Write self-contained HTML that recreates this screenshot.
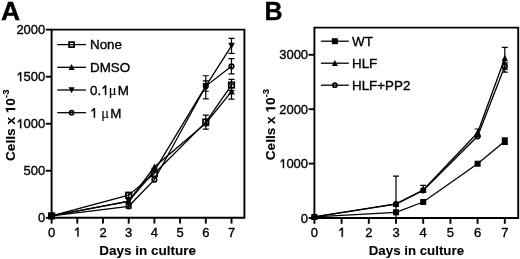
<!DOCTYPE html>
<html><head><meta charset="utf-8"><style>
html,body{margin:0;padding:0;background:#fff;overflow:hidden;width:520px;height:259px;}
svg{display:block;filter:grayscale(1);}
text{font-family:"Liberation Sans", sans-serif;fill:#000;stroke:#000;stroke-width:0.35px;}
text.b{stroke-width:0.1px;}
.h{fill:none;stroke:none;}
.one{fill:#000;stroke:#000;stroke-width:57px;}
.oneb{fill:#000;stroke:#000;stroke-width:15px;}
</style></head><body>
<svg width="520" height="259" viewBox="0 0 520 259">
<rect width="520" height="259" fill="#fff"/>
<path d="M51.6 29.65H244.4V217.8H51.6Z" fill="none" stroke="#000" stroke-width="1.9"/>
<path d="M45.8 217.8H51.6" stroke="#000" stroke-width="1.9"/>
<text x="45.3" y="222.3" text-anchor="end" font-size="13">0</text>
<path d="M45.8 170.76H51.6" stroke="#000" stroke-width="1.9"/>
<text x="45.3" y="175.26" text-anchor="end" font-size="13">500</text>
<path d="M45.8 123.73H51.6" stroke="#000" stroke-width="1.9"/>
<text x="45.3" y="128.23" text-anchor="end" font-size="13"><tspan class="h">1</tspan>000</text><path class="one" transform="translate(16.38 128.23) scale(0.00635 -0.00635)" d="M583 0L583 1147L223 905L223 1079L546 1409L763 1409L763 0Z"/>
<path d="M45.8 76.69H51.6" stroke="#000" stroke-width="1.9"/>
<text x="45.3" y="81.19" text-anchor="end" font-size="13"><tspan class="h">1</tspan>500</text><path class="one" transform="translate(16.38 81.19) scale(0.00635 -0.00635)" d="M583 0L583 1147L223 905L223 1079L546 1409L763 1409L763 0Z"/>
<path d="M45.8 29.65H51.6" stroke="#000" stroke-width="1.9"/>
<text x="45.3" y="34.15" text-anchor="end" font-size="13">2000</text>
<path d="M51.6 217.8V223.6" stroke="#000" stroke-width="1.9"/>
<text x="51.6" y="236.6" text-anchor="middle" font-size="13">0</text>
<path d="M77.3 217.8V223.6" stroke="#000" stroke-width="1.9"/>
<text x="77.3" y="236.6" text-anchor="middle" font-size="13"><tspan class="h">1</tspan></text><path class="one" transform="translate(73.69 236.6) scale(0.00635 -0.00635)" d="M583 0L583 1147L223 905L223 1079L546 1409L763 1409L763 0Z"/>
<path d="M103 217.8V223.6" stroke="#000" stroke-width="1.9"/>
<text x="103" y="236.6" text-anchor="middle" font-size="13">2</text>
<path d="M128.7 217.8V223.6" stroke="#000" stroke-width="1.9"/>
<text x="128.7" y="236.6" text-anchor="middle" font-size="13">3</text>
<path d="M154.4 217.8V223.6" stroke="#000" stroke-width="1.9"/>
<text x="154.4" y="236.6" text-anchor="middle" font-size="13">4</text>
<path d="M180.1 217.8V223.6" stroke="#000" stroke-width="1.9"/>
<text x="180.1" y="236.6" text-anchor="middle" font-size="13">5</text>
<path d="M205.8 217.8V223.6" stroke="#000" stroke-width="1.9"/>
<text x="205.8" y="236.6" text-anchor="middle" font-size="13">6</text>
<path d="M231.5 217.8V223.6" stroke="#000" stroke-width="1.9"/>
<text x="231.5" y="236.6" text-anchor="middle" font-size="13">7</text>
<text class="b" x="147.6" y="255.3" text-anchor="middle" font-size="13.5" font-weight="bold">Days in culture</text>
<g transform="translate(15.2 161) rotate(-90)"><text class="b" x="0" y="0" font-size="13.65" font-weight="bold">Cells x <tspan class="h">1</tspan>0<tspan font-size="9.6" dy="-5.9">-3</tspan></text><path class="oneb" transform="translate(47.8 0) scale(0.00667 -0.00667)" d="M498 0L498 1170L160 959L160 1180L513 1409L779 1409L779 0Z"/></g>
<text transform="translate(1.1 19.6) scale(1.06 1)" font-size="25" font-weight="bold">A</text>
<path d="M128.7 192.87V197.57M125.7 192.87H131.7M125.7 197.57H131.7" stroke="#000" stroke-width="1.2" fill="none"/>
<path d="M205.8 115.07V129.18M202.8 115.07H208.8M202.8 129.18H208.8" stroke="#000" stroke-width="1.2" fill="none"/>
<path d="M231.5 79.42V90.7M228.5 79.42H234.5M228.5 90.7H234.5" stroke="#000" stroke-width="1.2" fill="none"/>
<path d="M51.6 215.92L128.7 195.22L154.4 173.58L205.8 122.13L231.5 85.06" fill="none" stroke="#000" stroke-width="1.3"/>
<path d="M128.7 198.23V203.88M125.7 198.23H131.7M125.7 203.88H131.7" stroke="#000" stroke-width="1.2" fill="none"/>
<path d="M231.5 84.03V99.08M228.5 84.03H234.5M228.5 99.08H234.5" stroke="#000" stroke-width="1.2" fill="none"/>
<path d="M51.6 215.92L128.7 201.05L154.4 167L205.8 123.25L231.5 91.55" fill="none" stroke="#000" stroke-width="1.3"/>
<path d="M205.8 75.75V98.8M202.8 75.75H208.8M202.8 98.8H208.8" stroke="#000" stroke-width="1.2" fill="none"/>
<path d="M231.5 38.3V53.36M228.5 38.3H234.5M228.5 53.36H234.5" stroke="#000" stroke-width="1.2" fill="none"/>
<path d="M51.6 215.92L128.7 201.34L154.4 170.76L205.8 86.09L231.5 45.83" fill="none" stroke="#000" stroke-width="1.3"/>
<path d="M128.7 204.44V208.2M125.7 204.44H131.7M125.7 208.2H131.7" stroke="#000" stroke-width="1.2" fill="none"/>
<path d="M205.8 80.92V91.27M202.8 80.92H208.8M202.8 91.27H208.8" stroke="#000" stroke-width="1.2" fill="none"/>
<path d="M231.5 58.53V73.96M228.5 58.53H234.5M228.5 73.96H234.5" stroke="#000" stroke-width="1.2" fill="none"/>
<path d="M51.6 215.92L128.7 206.32L154.4 179.7L205.8 86.09L231.5 66.25" fill="none" stroke="#000" stroke-width="1.3"/>
<rect x="48.85" y="213.17" width="5.5" height="5.5" fill="none" stroke="#000" stroke-width="1.7"/>
<rect x="125.95" y="192.47" width="5.5" height="5.5" fill="none" stroke="#000" stroke-width="1.7"/>
<rect x="151.65" y="170.83" width="5.5" height="5.5" fill="none" stroke="#000" stroke-width="1.7"/>
<rect x="203.05" y="119.38" width="5.5" height="5.5" fill="none" stroke="#000" stroke-width="1.7"/>
<rect x="228.75" y="82.31" width="5.5" height="5.5" fill="none" stroke="#000" stroke-width="1.7"/>
<path d="M51.6 212.42L54.9 218.92L48.3 218.92Z" fill="#000"/>
<path d="M128.7 197.55L132 204.05L125.4 204.05Z" fill="#000"/>
<path d="M154.4 163.5L157.7 170L151.1 170Z" fill="#000"/>
<path d="M205.8 119.75L209.1 126.25L202.5 126.25Z" fill="#000"/>
<path d="M231.5 88.05L234.8 94.55L228.2 94.55Z" fill="#000"/>
<path d="M51.6 219.42L54.9 212.92L48.3 212.92Z" fill="#000"/>
<path d="M128.7 204.84L132 198.34L125.4 198.34Z" fill="#000"/>
<path d="M154.4 174.26L157.7 167.76L151.1 167.76Z" fill="#000"/>
<path d="M205.8 89.59L209.1 83.09L202.5 83.09Z" fill="#000"/>
<path d="M231.5 49.33L234.8 42.83L228.2 42.83Z" fill="#000"/>
<circle cx="51.6" cy="215.92" r="2.3" fill="none" stroke="#000" stroke-width="1.6"/>
<circle cx="128.7" cy="206.32" r="2.3" fill="none" stroke="#000" stroke-width="1.6"/>
<circle cx="154.4" cy="179.7" r="2.3" fill="none" stroke="#000" stroke-width="1.6"/>
<circle cx="205.8" cy="86.09" r="2.3" fill="none" stroke="#000" stroke-width="1.6"/>
<circle cx="231.5" cy="66.25" r="2.3" fill="none" stroke="#000" stroke-width="1.6"/>
<path d="M57.3 44.6H85.9" stroke="#000" stroke-width="1.3"/>
<rect x="69.1" y="42.1" width="5" height="5" fill="none" stroke="#000" stroke-width="1.7"/>
<text x="90" y="49.4" font-size="13.4">None</text>
<path d="M57.3 67.3H85.9" stroke="#000" stroke-width="1.3"/>
<path d="M71.6 64.05L74.65 70.05L68.55 70.05Z" fill="#000"/>
<text x="90" y="72.1" font-size="13.4">DMSO</text>
<path d="M57.3 90H85.9" stroke="#000" stroke-width="1.3"/>
<path d="M71.6 93.25L74.65 87.25L68.55 87.25Z" fill="#000"/>
<text x="90" y="94.8" font-size="13.4">0.<tspan class="h">1</tspan><tspan font-family="Liberation Serif" font-size="14.5" style="stroke-width:0.1px">μ</tspan><tspan dx="1.3">M</tspan></text><path class="one" transform="translate(101.18 94.8) scale(0.00654 -0.00654)" d="M583 0L583 1147L223 905L223 1079L546 1409L763 1409L763 0Z"/>
<path d="M57.3 112.7H85.9" stroke="#000" stroke-width="1.3"/>
<circle cx="71.6" cy="112.7" r="2.05" fill="none" stroke="#000" stroke-width="1.6"/>
<text x="90" y="117.5" font-size="13.4"><tspan class="h">1</tspan> <tspan font-family="Liberation Serif" font-size="14.5" style="stroke-width:0.1px">μ</tspan><tspan dx="1.3">M</tspan></text><path class="one" transform="translate(90 117.5) scale(0.00654 -0.00654)" d="M583 0L583 1147L223 905L223 1079L546 1409L763 1409L763 0Z"/>
<path d="M314.4 27.6H518.2V218H314.4Z" fill="none" stroke="#000" stroke-width="1.9"/>
<path d="M308.6 218H314.4" stroke="#000" stroke-width="1.9"/>
<text x="308.1" y="222.5" text-anchor="end" font-size="13">0</text>
<path d="M308.6 163.6H314.4" stroke="#000" stroke-width="1.9"/>
<text x="308.1" y="168.1" text-anchor="end" font-size="13"><tspan class="h">1</tspan>000</text><path class="one" transform="translate(279.18 168.1) scale(0.00635 -0.00635)" d="M583 0L583 1147L223 905L223 1079L546 1409L763 1409L763 0Z"/>
<path d="M308.6 109.2H314.4" stroke="#000" stroke-width="1.9"/>
<text x="308.1" y="113.7" text-anchor="end" font-size="13">2000</text>
<path d="M308.6 54.8H314.4" stroke="#000" stroke-width="1.9"/>
<text x="308.1" y="59.3" text-anchor="end" font-size="13">3000</text>
<path d="M314.4 218V223.8" stroke="#000" stroke-width="1.9"/>
<text x="314.4" y="236.8" text-anchor="middle" font-size="13">0</text>
<path d="M341.6 218V223.8" stroke="#000" stroke-width="1.9"/>
<text x="341.6" y="236.8" text-anchor="middle" font-size="13"><tspan class="h">1</tspan></text><path class="one" transform="translate(337.99 236.8) scale(0.00635 -0.00635)" d="M583 0L583 1147L223 905L223 1079L546 1409L763 1409L763 0Z"/>
<path d="M368.8 218V223.8" stroke="#000" stroke-width="1.9"/>
<text x="368.8" y="236.8" text-anchor="middle" font-size="13">2</text>
<path d="M396 218V223.8" stroke="#000" stroke-width="1.9"/>
<text x="396" y="236.8" text-anchor="middle" font-size="13">3</text>
<path d="M423.2 218V223.8" stroke="#000" stroke-width="1.9"/>
<text x="423.2" y="236.8" text-anchor="middle" font-size="13">4</text>
<path d="M450.4 218V223.8" stroke="#000" stroke-width="1.9"/>
<text x="450.4" y="236.8" text-anchor="middle" font-size="13">5</text>
<path d="M477.6 218V223.8" stroke="#000" stroke-width="1.9"/>
<text x="477.6" y="236.8" text-anchor="middle" font-size="13">6</text>
<path d="M504.8 218V223.8" stroke="#000" stroke-width="1.9"/>
<text x="504.8" y="236.8" text-anchor="middle" font-size="13">7</text>
<text class="b" x="416.4" y="255.3" text-anchor="middle" font-size="13.3" font-weight="bold">Days in culture</text>
<g transform="translate(275.3 160.3) rotate(-90)"><text class="b" x="0" y="0" font-size="13.65" font-weight="bold">Cells x <tspan class="h">1</tspan>0<tspan font-size="9.6" dy="-5.9">-3</tspan></text><path class="oneb" transform="translate(47.8 0) scale(0.00667 -0.00667)" d="M498 0L498 1170L160 959L160 1180L513 1409L779 1409L779 0Z"/></g>
<text transform="translate(264.4 19.9) scale(1.0 1)" font-size="25" font-weight="bold">B</text>
<path d="M504.8 137.92V144.45M501.8 137.92H507.8M501.8 144.45H507.8" stroke="#000" stroke-width="1.2" fill="none"/>
<path d="M314.4 216.91L396 212.29L423.2 202.01L477.6 163.71L504.8 141.19" fill="none" stroke="#000" stroke-width="1.3"/>
<path d="M396 176.06V218M393 176.06H399" stroke="#000" stroke-width="1.2" fill="none"/>
<path d="M423.2 185.36V191.62M420.2 185.36H426.2M420.2 191.62H426.2" stroke="#000" stroke-width="1.2" fill="none"/>
<path d="M477.6 129V136.62M474.6 129H480.6M474.6 136.62H480.6" stroke="#000" stroke-width="1.2" fill="none"/>
<path d="M504.8 47.4V69.16M501.8 47.4H507.8M501.8 69.16H507.8" stroke="#000" stroke-width="1.2" fill="none"/>
<path d="M314.4 216.91L396 203.8L423.2 189.98L477.6 132.81L504.8 58.28" fill="none" stroke="#000" stroke-width="1.3"/>
<path d="M504.8 62.96V72.21M501.8 62.96H507.8M501.8 72.21H507.8" stroke="#000" stroke-width="1.2" fill="none"/>
<path d="M314.4 216.91L396 204.13L423.2 190.36L477.6 136.29L504.8 66.22" fill="none" stroke="#000" stroke-width="1.3"/>
<rect x="311.4" y="213.91" width="6" height="6" fill="#000"/>
<rect x="393" y="209.29" width="6" height="6" fill="#000"/>
<rect x="420.2" y="199.01" width="6" height="6" fill="#000"/>
<rect x="474.6" y="160.71" width="6" height="6" fill="#000"/>
<rect x="501.8" y="138.19" width="6" height="6" fill="#000"/>
<path d="M314.4 213.41L317.7 219.91L311.1 219.91Z" fill="#000"/>
<path d="M396 200.3L399.3 206.8L392.7 206.8Z" fill="#000"/>
<path d="M423.2 186.48L426.5 192.98L419.9 192.98Z" fill="#000"/>
<path d="M477.6 129.31L480.9 135.81L474.3 135.81Z" fill="#000"/>
<path d="M504.8 54.78L508.1 61.28L501.5 61.28Z" fill="#000"/>
<circle cx="314.4" cy="216.91" r="2.3" fill="none" stroke="#000" stroke-width="1.6"/>
<circle cx="396" cy="204.13" r="2.3" fill="none" stroke="#000" stroke-width="1.6"/>
<circle cx="423.2" cy="190.36" r="2.3" fill="none" stroke="#000" stroke-width="1.6"/>
<circle cx="477.6" cy="136.29" r="2.3" fill="none" stroke="#000" stroke-width="1.6"/>
<circle cx="504.8" cy="66.22" r="2.3" fill="none" stroke="#000" stroke-width="1.6"/>
<path d="M320.9 41.2H348.8" stroke="#000" stroke-width="1.3"/>
<rect x="331.85" y="38.2" width="6" height="6" fill="#000"/>
<text x="352" y="46" font-size="13.4">WT</text>
<path d="M320.9 63.2H348.8" stroke="#000" stroke-width="1.3"/>
<path d="M334.85 59.95L337.9 65.95L331.8 65.95Z" fill="#000"/>
<text x="352" y="68" font-size="13.4">HLF</text>
<path d="M320.9 85.2H348.8" stroke="#000" stroke-width="1.3"/>
<circle cx="334.85" cy="85.2" r="2.05" fill="none" stroke="#000" stroke-width="1.6"/>
<text x="352" y="90" font-size="13.4">HLF+PP2</text>
</svg>
</body></html>
